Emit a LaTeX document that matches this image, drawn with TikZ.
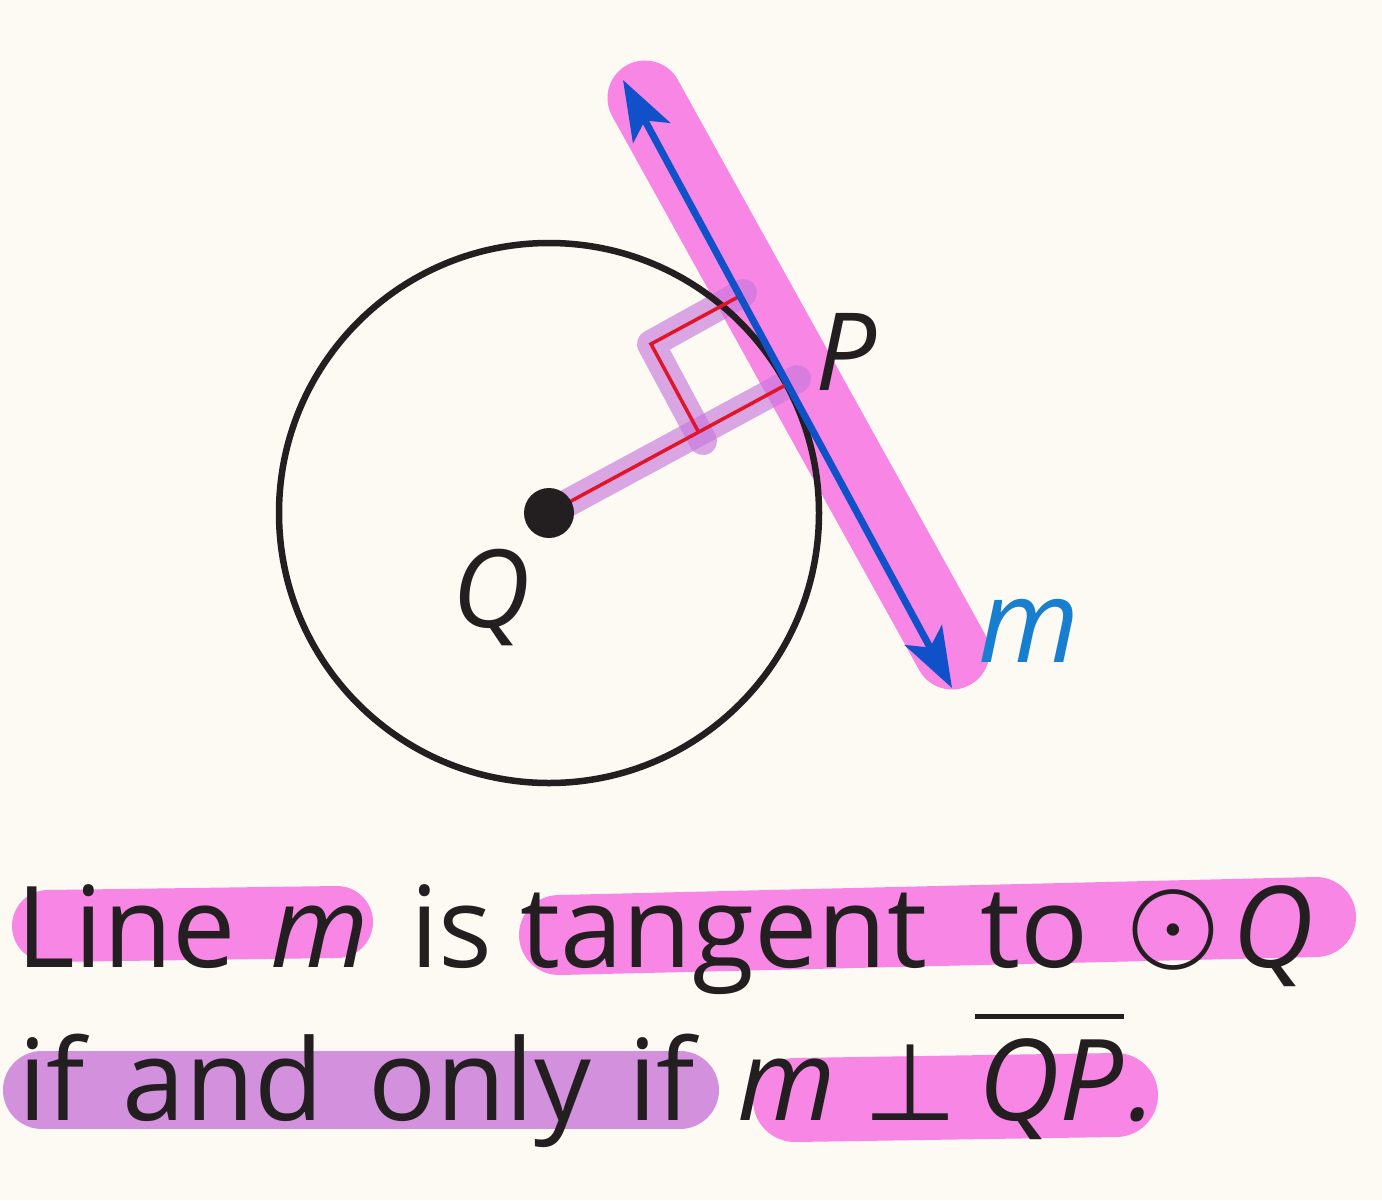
\documentclass[tikz,border=0pt]{standalone}
\usepackage{fontspec}
\setmainfont{Open Sans}
\newfontfamily\symf{DejaVu Sans}
\newfontfamily\lmm{Latin Modern Math}
\usetikzlibrary{arrows.meta}
\definecolor{bg}{RGB}{252,250,242}
\definecolor{hlpink}{RGB}{247,134,229}
\definecolor{hlpurple}{RGB}{211,145,221}
\definecolor{figpurple}{RGB}{200,120,220}
\definecolor{linblue}{RGB}{16,80,200}
\definecolor{mblue}{RGB}{24,126,208}
\definecolor{redang}{RGB}{225,20,40}
\definecolor{ink}{RGB}{35,31,32}
\begin{document}
\begin{tikzpicture}[x=1pt,y=-1pt,
  band/.style={line width=#1, line cap=round, line join=round},
  txt/.style={anchor=base west, inner sep=0pt, text=ink, font=\fontsize{113}{140}\selectfont},
  itxt/.style={txt, font=\fontsize{113}{140}\selectfont\itshape},
  lab/.style={anchor=base west, inner sep=0pt, text=ink, font=\fontsize{108}{130}\selectfont\itshape},
  lineM/.style={linblue, line width=7pt, {Stealth[length=60pt,width=42pt,inset=14pt]}-{Stealth[length=60pt,width=42pt,inset=14pt]}}]
\useasboundingbox (0,0) rectangle (1382,1200);
\fill[bg] (0,0) rectangle (1382,1200);
% geometry
\coordinate (Q) at (549,513);
\coordinate (P) at (786.6,384.5);
\coordinate (A) at (698.6,432.1);
\coordinate (B) at (651,344);
\coordinate (C) at (739,296.5);
\coordinate (mtop) at (623,80);
\coordinate (mbot) at (952,688);
\coordinate (h1) at (645,98);
\coordinate (h2) at (952,652);
\coordinate (r1) at (562,506);
\coordinate (r2) at (797,379);
\coordinate (s1) at (703,441);
\coordinate (s3) at (743,293);
% highlights in figure
\draw[band=75pt, hlpink] (h1) -- (h2);
\draw[band=28pt, figpurple, opacity=0.65] (r1) -- (r2);
\draw[band=28pt, figpurple, opacity=0.65] (s1) -- (B) -- (s3);
% circle
\draw[ink, line width=6.5pt] (Q) circle[radius=270];
% radius and right angle
\draw[redang, line width=3.5pt] (Q) -- (P);
\draw[redang, line width=3.5pt, line join=miter] (A) -- (B) -- (C);
% line m
\draw[lineM] (mtop) -- (mbot);
\fill[ink] (Q) circle[radius=25];
% labels
\node[lab] (lQ) at (452,627) {Q};
\node[lab] (lP) at (815,390) {P};
\node[lab, text=mblue, font=\fontsize{116}{140}\selectfont\itshape] (lm) at (978,662) {m};
% text highlights
\draw[band=72pt, hlpink] (48,926) -- (337,922);
\draw[band=80pt, hlpink] (559,935) -- (1316,917);
\draw[band=78pt, hlpurple] (42,1090) -- (680,1090);
\draw[band=84pt, hlpink] (795,1100) -- (1116,1095);
% text line 1
\node[txt] (w1) at (16,967) {Line};
\node[itxt] (w2) at (270,967) {m};
\node[txt] (w3) at (410,967) {is};
\node[txt] (w4) at (520,967) {tangent};
\node[txt] (w5) at (980,967) {to};
\node[txt, font=\lmm\fontsize{118}{140}\selectfont] (w6) at (1127,959) {⊙};
\node[itxt] (w7) at (1232,967) {Q};
% text line 2
\node[txt] (v1) at (18,1120) {if};
\node[txt] (v2) at (122,1120) {and};
\node[txt] (v3) at (368,1120) {only};
\node[txt] (v4) at (628,1120) {if};
\node[itxt] (v5) at (737,1120) {m};
\node[txt, font=\symf\fontsize{108}{130}\selectfont] (v6) at (863,1120) {⊥};
\node[itxt] (v7) at (978,1120) {QP};
\node[itxt] (v8) at (1128,1120) {.};
\draw[ink, line width=5pt] ([xshift=-3pt,yshift=21pt]v7.north west) -- ([xshift=0pt,yshift=21pt]v7.north east);
\end{tikzpicture}
\end{document}
